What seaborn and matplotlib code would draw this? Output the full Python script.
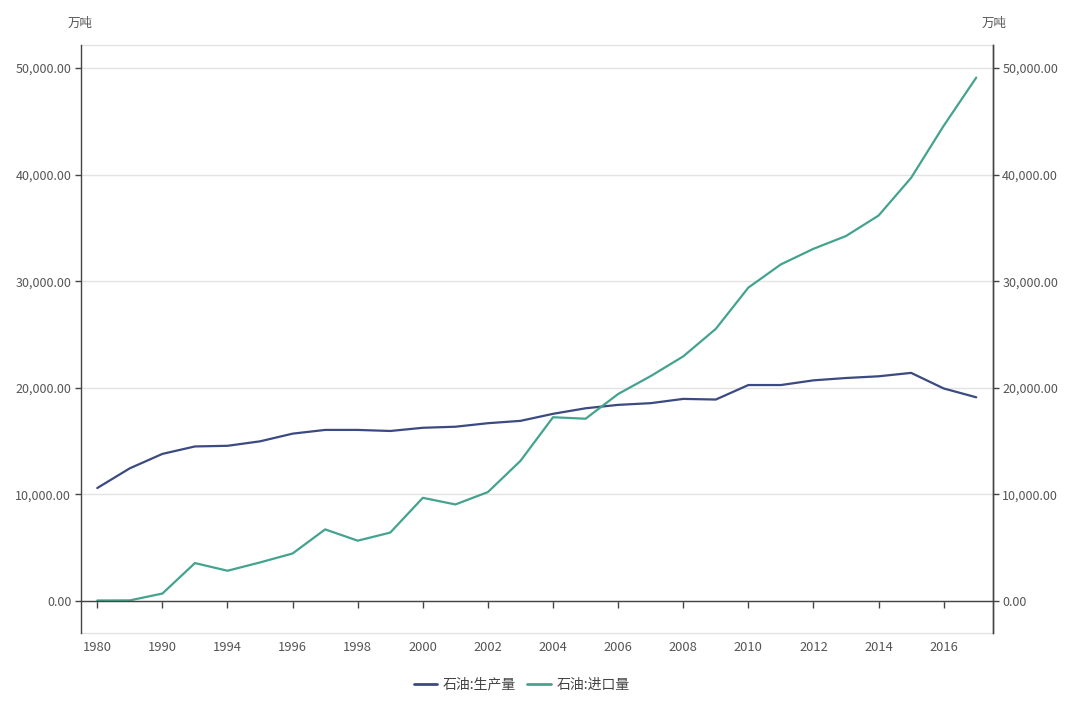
import numpy as np
import pandas as pd
import matplotlib
matplotlib.use("Agg")
import matplotlib.pyplot as plt
import seaborn as sns
from matplotlib.ticker import FuncFormatter
from matplotlib.lines import Line2D

# Data (unit: 万吨)
years = ["1980", "1985", "1990", "1993", "1994", "1995", "1996", "1997", "1998", "1999",
         "2000", "2001", "2002", "2003", "2004", "2005", "2006", "2007", "2008", "2009",
         "2010", "2011", "2012", "2013", "2014", "2015", "2016", "2017"]
production = [10600, 12450, 13800, 14500, 14560, 14980, 15700, 16050, 16050, 15950,
              16250, 16350, 16680, 16900, 17560, 18080, 18400, 18560, 18960, 18900,
              20260, 20260, 20700, 20920, 21080, 21400, 19940, 19110]
imports = [50, 60, 700, 3560, 2840, 3620, 4460, 6720, 5660, 6420,
           9680, 9060, 10220, 13150, 17240, 17100, 19420, 21100, 22950, 25530,
           29400, 31580, 33040, 34240, 36160, 39700, 44580, 49100]

name_prod = "石油:生产量"
name_imp = "石油:进口量"

sns.set_theme(style="white")
plt.rcParams["font.family"] = ["Noto Sans CJK SC", "DejaVu Sans"]

df = pd.DataFrame({"idx": np.arange(len(years)), name_prod: production, name_imp: imports})
long_df = df.melt(id_vars="idx", var_name="series", value_name="value")

fig = plt.figure(figsize=(10.8, 7.06), dpi=100)
ax = fig.add_axes([0.075, 0.1034, 0.844, 0.8329])

palette = {name_prod: "#3b4a80", name_imp: "#44a38f"}
sns.lineplot(data=long_df, x="idx", y="value", hue="series", palette=palette,
             linewidth=1.6, ax=ax, legend=False)

ax.set_xlim(-0.5, len(years) - 0.5)
ax.set_ylim(-3000, 52160)
ax.set_xlabel("")
ax.set_ylabel("")

# grid
ax.set_yticks([0, 10000, 20000, 30000, 40000, 50000])
ax.yaxis.grid(True, color="#e3e3e3", linewidth=1)
ax.set_axisbelow(True)
fmt = FuncFormatter(lambda v, p: f"{v:,.2f}")
ax.yaxis.set_major_formatter(fmt)

tick_col = "#555555"
axis_col = "#444444"

# x axis sits on zero line
ax.spines["bottom"].set_position(("data", 0))
ax.spines["bottom"].set_color(axis_col)
ax.spines["bottom"].set_linewidth(1)
ax.spines["top"].set_visible(False)
for s in ["left", "right"]:
    ax.spines[s].set_color(axis_col)
    ax.spines[s].set_linewidth(1)

ticks = np.arange(0, len(years), 2)
ax.set_xticks(ticks)
ax.set_xticklabels([years[i] for i in ticks])
ax.tick_params(axis="x", direction="out", length=5, width=1, color=axis_col,
               labelsize=9.3, labelcolor=tick_col, pad=24, bottom=True)
ax.tick_params(axis="y", direction="out", length=4, width=1, color=axis_col,
               labelsize=9, labelcolor=tick_col, pad=3, left=True)

# light border lines at top and bottom of plot area
for yy in (0, 1):
    ax.plot([0, 1], [yy, yy], transform=ax.transAxes, color="#e3e3e3",
            linewidth=1, clip_on=False, zorder=0)

# right axis mirrors the left one
ax2 = ax.twinx()
ax2.set_ylim(ax.get_ylim())
ax2.set_yticks(ax.get_yticks())
ax2.yaxis.set_major_formatter(fmt)
ax2.tick_params(axis="y", direction="out", length=4, width=1, color=axis_col,
                labelsize=9, labelcolor=tick_col, pad=3, right=True)
for s in ["top", "bottom", "left"]:
    ax2.spines[s].set_visible(False)
ax2.spines["right"].set_color(axis_col)
ax2.spines["right"].set_linewidth(1)
ax2.grid(False)

# unit labels
fig.text(0.074, 0.967, "万吨", ha="center", va="center", fontsize=9, color=tick_col)
fig.text(0.920, 0.967, "万吨", ha="center", va="center", fontsize=9, color=tick_col)

# legend
handles = [Line2D([], [], color=palette[name_prod], linewidth=2),
           Line2D([], [], color=palette[name_imp], linewidth=2)]
fig.legend(handles, [name_prod, name_imp], loc="center", bbox_to_anchor=(0.483, 0.03),
           ncol=2, frameon=False, fontsize=10, labelcolor="#444444",
           handlelength=1.7, handletextpad=0.4, columnspacing=0.8)

fig.savefig("out.png", dpi=100)
